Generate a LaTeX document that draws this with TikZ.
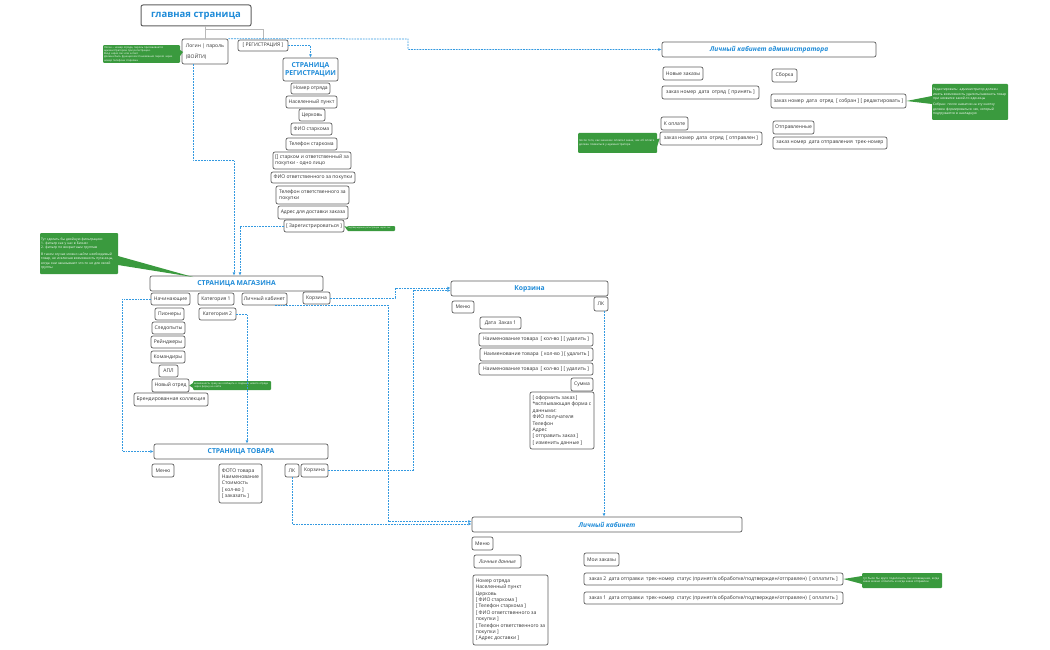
\documentclass[tikz,border=0pt]{standalone}
\usepackage{fontspec}
\setmainfont{Open Sans}
\usetikzlibrary{arrows.meta,calc}
\definecolor{xblue}{HTML}{1E8BD8}
\definecolor{xline}{HTML}{3399E0}
\definecolor{xgreen}{HTML}{3A9A3E}
\definecolor{xborder}{HTML}{5E5E5E}
\definecolor{xtext}{HTML}{333333}
\newcommand\bx[7][]{\node[box,#1,minimum width={(#5-#3)*1pt},minimum height={(#6-#4)*1pt}] (#2) at ({(#3+#5)/2},{(#4+#6)/2}) {#7};}
\newcommand\notebox[7][]{\node[note,#1,minimum width={(#5-#3)*1pt},minimum height={(#6-#4)*1pt},text width={(#5-#3-2)*1pt}] (#2) at ({(#3+#5)/2},{(#4+#6)/2}) {#7};}
\newcommand\wdg[3]{\fill[xgreen] #1 -- #2 -- #3 -- cycle;}
\begin{document}
\begin{tikzpicture}[x=1pt,y=-1pt,
  box/.style={draw=xborder,line width=0.7pt,rounded corners=2pt,fill=white,inner sep=1pt,text=xtext,font=\fontsize{5}{6.4}\selectfont},
  ttl/.style={font=\bfseries\fontsize{6.8}{8}\selectfont,text=xblue},
  ttli/.style={font=\bfseries\itshape\fontsize{6.6}{8}\selectfont,text=xblue},
  ttlbig/.style={line width=1pt,font=\bfseries\fontsize{9.5}{11}\selectfont,text=xblue},
  note/.style={fill=xgreen,rounded corners=1pt,text=white,font=\fontsize{2.8}{3.5}\selectfont,align=left,inner sep=1pt},
  bignote/.style={font=\fontsize{3.3}{4.4}\selectfont},
  dl/.style={xline,line width=0.75pt,dash pattern=on 1.8pt off 1pt},
  arr/.style={dl,-{Latex[length=3.2pt,width=2.8pt]}},
  tree/.style={draw=gray!55,line width=1pt}]
\useasboundingbox (0,0) rectangle (1050,650);

% ---- home ----
\bx[ttlbig]{home}{141}{5}{251}{26}{главная страница}
\bx[align=left]{login}{182}{39}{228}{64}{Логин | пароль\\[5pt](ВОЙТИ)}
\bx{reg}{238}{40}{288}{51}{[ РЕГИСТРАЦИЯ ]}
\coordinate (tj) at (205,30);
\coordinate (lx) at (205,0);
\draw[tree] (lx |- home.south) -- (lx |- login.north);
\draw[tree] (tj) -| (reg.north);

% ---- registration ----
\bx[ttl,align=center]{regttl}{283}{58}{338}{81}{СТРАНИЦА\\РЕГИСТРАЦИИ}
\bx{r1}{291}{83}{330}{94}{Номер отряда}
\bx{r2}{286}{96}{337}{108}{Населенный пункт}
\bx{r3}{299}{109}{325}{121}{Церковь}
\bx{r4}{291}{123}{332}{135}{ФИО старкома}
\bx{r5}{286}{138}{337}{150}{Телефон старкома}
\bx[align=left]{r6}{273}{152}{351}{169}{[] старком и ответственный за\\покупки - одно лицо}
\bx{r7}{271}{172}{355}{183}{ФИО ответственного за покупки}
\bx[align=left]{r8}{276}{186}{349}{204}{Телефон ответственного за\\покупки}
\bx{r9}{278}{206}{348}{219}{Адрес для доставки заказа}
\bx{zreg}{284}{220}{344}{232}{[ Зарегистрироваться ]}

% ---- admin ----
\bx[ttli]{admin}{662}{42}{876}{57}{Личный кабинет администратора}
\bx{a1}{663}{67}{703}{80}{Новые заказы}
\bx{a2}{662}{86}{759}{99}{заказ номер\enspace дата\enspace отряд\enspace [ принять ]}
\bx{a3}{772}{69}{797}{82}{Сборка}
\bx{a4}{771}{94}{906}{108}{заказ номер\enspace дата\enspace отряд\enspace [ собран ] [ редактировать ]}
\bx{a5}{661}{117}{688}{130}{К оплате}
\bx{a6}{660}{132}{762}{145}{заказ номер\enspace дата\enspace отряд\enspace [ отправлен ]}
\bx{a7}{773}{121}{814}{134}{Отправленные}
\bx{a8}{773}{137}{887}{149}{заказ номер\enspace дата отправления\enspace трек-номер}

% ---- store ----
\bx[ttl]{store}{150}{276}{323}{291}{СТРАНИЦА МАГАЗИНА}
\bx{nach}{151}{293}{190}{305}{Начинающие}
\bx{cat1}{198}{293}{234}{305}{Категория 1}
\bx{slk}{242}{293}{287}{305}{Личный кабинет}
\bx{skor}{303}{292}{330}{304}{Корзина}
\bx{s2}{155}{308}{184}{320}{Пионеры}
\bx{cat2}{199}{308}{236}{320}{Категория 2}
\bx{s3}{152}{322}{185}{334}{Следопыты}
\bx{s4}{151}{336}{185}{348}{Рейнджеры}
\bx{s5}{151}{351}{185}{363}{Командиры}
\bx{s6}{159}{365}{178}{377}{АПЛ}
\bx{s7}{152}{379}{189}{392}{Новый отряд}
\bx{s8}{134}{393}{208}{406}{Брендированная коллекция}

% ---- product ----
\bx[ttl]{prod}{154}{444}{328}{459}{СТРАНИЦА ТОВАРА}
\bx{pmenu}{152}{464}{174}{477}{Меню}
\bx[align=left]{pinfo}{219}{464}{262}{503}{ФОТО товара\\Наименование\\Стоимость\\{}[ кол-во ]\\{}[ заказать ]}
\bx{plk}{285}{464}{299}{477}{ЛК}
\bx{pkor}{301}{464}{328}{477}{Корзина}

% ---- cart ----
\bx[ttl]{cart}{451}{281}{608}{296}{Корзина}
\bx{cmenu}{452}{301}{474}{313}{Меню}
\bx{clk}{594}{297}{608}{311}{ЛК}
\bx{c1}{480}{317}{521}{329}{Дата\enspace Заказ 1}
\bx{c2}{479}{333}{593}{346}{Наименование товара\enspace [ кол-во ] [ удалить ]}
\bx{c3}{480}{348}{593}{361}{Наименование товара\enspace [ кол-во ] [ удалить ]}
\bx{c4}{479}{363}{593}{375}{Наименование товара\enspace [ кол-во ] [ удалить ]}
\bx{csum}{571}{378}{593}{391}{Сумма}
\bx[align=left]{cform}{530}{392}{594}{449}{[ оформить заказ ]\\{}*всплывающая форма с\\данными:\\ФИО получателя\\Телефон\\Адрес\\{}[ отправить заказ ]\\{}[ изменить данные ]}

% ---- personal cabinet ----
\bx[ttli]{pc}{472}{517}{742}{532}{Личный кабинет}
\bx{pmenu2}{472}{537}{493}{550}{Меню}
\bx[font=\itshape\fontsize{5}{6.4}\selectfont]{pld}{474}{555}{521}{568}{Личные данные}
\bx[align=left]{pdata}{473}{575}{548}{645}{Номер отряда\\Населенный пункт\\Церковь\\{}[ ФИО старкома ]\\{}[ Телефон старкома ]\\{}[ ФИО ответственного за\\покупки ]\\{}[ Телефон ответственного за\\покупки ]\\{}[ Адрес доставки ]}
\bx{porders}{584}{553}{619}{566}{Мои заказы}
\bx{o2}{584}{573}{843}{585}{заказ 2\enspace дата отправки\enspace трек-номер\enspace статус (принят/в обработке/подтвержден/отправлен)\enspace [ оплатить ]}
\bx{o1}{584}{592}{843}{604}{заказ 1\enspace дата отправки\enspace трек-номер\enspace статус (принят/в обработке/подтвержден/отправлен)\enspace [ оплатить ]}

% ---- notes ----
\notebox[font=\fontsize{2.6}{3.3}\selectfont]{n1}{103}{47}{180}{61}{Логин -- номер отряда, пароль присваивается администратором при регистрации.\\Вход через смс или e-mail.\\Должна быть функция восстановления пароля через номер телефона старкома.}
\wdg{(180,50)}{(183,52)}{(180,56)}
\notebox[bignote]{n2}{40}{233}{118}{274}{Тут сделать бы двойную фильтрацию:\\1. фильтр как у нас в Бизнес\\2. фильтр по возрастным группам\\[2pt]В таком случае можно найти необходимый товар, не исключая возможность путаницы, когда они заказывают что-то не для своей группы}
\wdg{(118,256)}{(193,277)}{(118,265)}
\notebox[bignote]{n3}{932}{84}{1008}{120}{Редактировать: администратор должен иметь возможность удалить/заменить товар при нехватке какой-то единицы\\[2pt]Собран: после нажатия на эту кнопку должен формироваться чек, который подгружается в накладную}
\wdg{(a4.east)}{(932,96)}{(932,104)}
\notebox{n4}{578}{133}{657}{153}{после того, как заказчик оплатил заказ, чек об оплате должен появиться у администратора}
\wdg{(657,139)}{(a6.west)}{(657,147)}
\notebox[font=\fontsize{2.2}{2.6}\selectfont]{n5}{347}{226}{395}{231}{подтверждение регистрации через смс}
\wdg{(zreg.east)}{(347,227)}{(347,230)}
\notebox[font=\fontsize{2.5}{3}\selectfont]{n6}{193}{381}{271}{390}{возможность сразу же сообщить о создании нового отряда через форму на сайте}
\wdg{(s7.east)}{(193,383)}{(193,388)}
\notebox{n7}{862}{573}{942}{588}{тут было бы круто подключить смс оповещение, когда заказ можно оплатить и когда заказ отправлен}
\wdg{(o2.east)}{(862,576)}{(862,584)}

% ---- connectors ----
\coordinate (ad) at (408,39);
\draw[arr] (login.north east) -- (ad) |- (admin.west);
\draw[arr] (reg.east) -| (regttl.north);
\coordinate (b1) at (193,160);
\coordinate (sx1) at (234,0);
\coordinate (sx2) at (240,0);
\draw[arr] (login.south -| b1) -- (b1) -| (sx1 |- store.north);
\draw[arr] (zreg.west) -| (sx2 |- store.north);
\coordinate (c122) at (122,0);
\draw[arr] (nach.west) -| (c122 |- prod.west) -- (prod.west);
\coordinate (c247) at (247,0);
\draw[arr] (cat2.east) -| (c247 |- prod.north);
\coordinate (c275) at (275,0);
\coordinate (c388) at (388,0);
\coordinate (pk1) at ([yshift=3pt]pc.west);
\coordinate (pk2) at ([yshift=0.5pt]pc.west);
\draw[arr] (slk.south -| c275) -| (c388 |- pk1) -- (pk1);
\draw[arr] (plk.south) |- (pk2);
\coordinate (c395) at (395,0);
\coordinate (c413) at (413,0);
\coordinate (ck1) at ([yshift=0.5pt]cart.west);
\coordinate (ck2) at ([yshift=-2pt]cart.west);
\draw[arr] (skor.east) -| (c395 |- ck1) -- (ck1);
\draw[arr] (pkor.east) -| (c413 |- ck2) -- (ck2);
\coordinate (c604) at (604,0);
\draw[arr] (clk.south -| c604) -- (c604 |- pc.north);
\end{tikzpicture}
\end{document}
